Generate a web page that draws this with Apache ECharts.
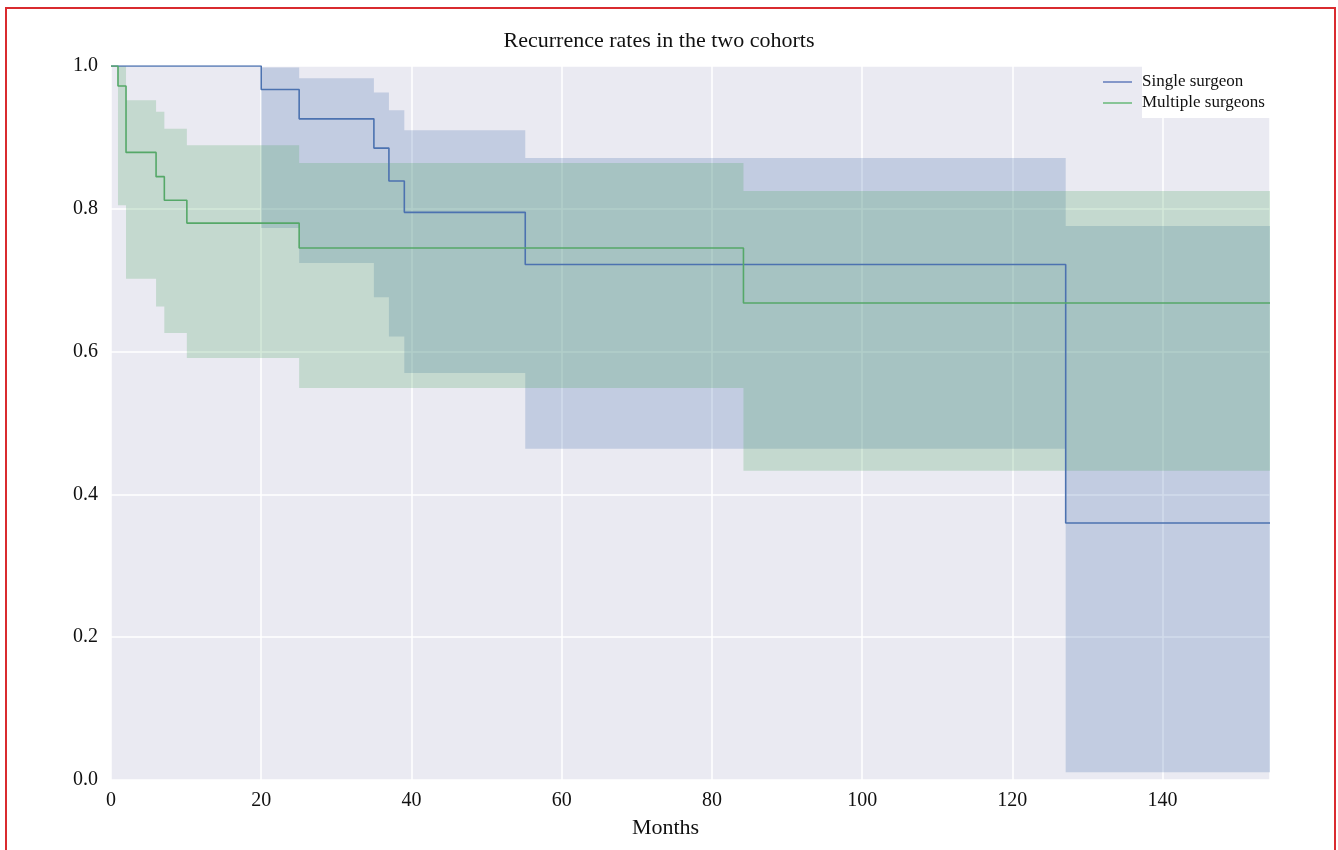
<!DOCTYPE html>
<html>
<head>
<meta charset="utf-8">
<script src="https://cdn.jsdelivr.net/npm/echarts/dist/echarts.min.js"></script>
<style>
html,body{margin:0;padding:0;background:#fff;overflow:hidden}
#chart{width:1338px;height:850px}
#frame{position:absolute;left:5px;top:7px;width:1331px;height:900px;box-sizing:border-box;border:2px solid #d92b2f;border-bottom:none;pointer-events:none}
</style>
</head>
<body>
<div id="chart"></div>
<div id="frame"></div>
<script>
// ---- data ----
const titleText = 'Recurrence rates in the two cohorts';
const xName = 'Months';
const xTicks = [0, 20, 40, 60, 80, 100, 120, 140];
const yTicks = [0.0, 0.2, 0.4, 0.6, 0.8, 1.0];
const seriesNames = ['Single surgeon', 'Multiple surgeons'];

// Single surgeon (Kaplan-Meier step points, value holds until next time)
const singleTimes = [0, 20.0, 25.05, 35.0, 37.0, 39.05, 55.15, 127.1, 154.3];
const singleSurv  = [1.0, 0.967, 0.926, 0.885, 0.839, 0.795, 0.722, 0.360, 0.360];
const singleLow   = [1.0, 0.773, 0.724, 0.676, 0.621, 0.570, 0.464, 0.011, 0.011];
const singleHigh  = [1.0, 0.998, 0.983, 0.963, 0.938, 0.910, 0.871, 0.776, 0.776];

// Multiple surgeons
const multiTimes = [0, 0.93, 2.0, 6.0, 7.1, 10.1, 25.05, 84.2, 154.3];
const multiSurv  = [1.0, 0.972, 0.879, 0.845, 0.812, 0.780, 0.745, 0.668, 0.668];
const multiLow   = [1.0, 0.805, 0.702, 0.663, 0.626, 0.591, 0.549, 0.433, 0.433];
const multiHigh  = [1.0, 1.000, 0.952, 0.936, 0.912, 0.889, 0.864, 0.825, 0.825];

const xMax = 154.3;

// ---- chart ----
const BLUE = '#4C72B0', GREEN = '#55A868';
const FONT = 'Liberation Serif';

function band(key, times, lo, hi, fill) {
  return {
    name: key + ' CI', type: 'custom', silent: true, z: 1,
    data: [[times[0], hi[0]]],
    renderItem: function (params, api) {
      const pts = [];
      for (let i = 0; i < times.length - 1; i++) {
        pts.push(api.coord([times[i], hi[i]]));
        pts.push(api.coord([times[i + 1], hi[i]]));
      }
      for (let i = times.length - 2; i >= 0; i--) {
        pts.push(api.coord([times[i + 1], lo[i]]));
        pts.push(api.coord([times[i], lo[i]]));
      }
      return { type: 'polygon', shape: { points: pts }, style: { fill: fill, stroke: null } };
    }
  };
}
function curve(name, times, surv, color) {
  return { name: name, type: 'line', step: 'end', symbol: 'none', silent: true,
    data: times.map((t, i) => [t, surv[i]]),
    lineStyle: { color: color, width: 1.6 }, itemStyle: { color: color }, z: 3 };
}

const chart = echarts.init(document.getElementById('chart'), null, { renderer: 'canvas' });
chart.setOption({
  animation: false,
  backgroundColor: '#ffffff',
  title: {
    text: titleText, left: 654, top: 25, textAlign: 'center',
    textStyle: { fontFamily: FONT, fontSize: 22, fontWeight: 'normal', color: '#111' }
  },
  legend: {
    data: [
      { name: seriesNames[0], itemStyle: { color: '#8497c9' } },
      { name: seriesNames[1], itemStyle: { color: '#88c597' } }
    ],
    orient: 'vertical', left: 1103, top: 72, padding: 0, itemGap: 1,
    itemWidth: 29, itemHeight: 2, icon: 'rect',
    textStyle: { fontFamily: FONT, fontSize: 17, color: '#111', lineHeight: 20, padding: [0, 0, 0, 5] },
    z: 5
  },
  graphic: [{
    type: 'rect', z: 4, silent: true,
    shape: { x: 1142, y: 65, width: 128, height: 53 },
    style: { fill: '#ffffff' }
  }],
  grid: { left: 111, right: 68, top: 66, bottom: 70, containLabel: false, outerBoundsMode: 'none',
          show: true, backgroundColor: '#EAEAF2', borderWidth: 0 },
  xAxis: {
    type: 'value', min: 0, max: xMax, interval: 20,
    name: xName, nameLocation: 'middle', nameGap: 37, nameMoveOverlap: false,
    nameTextStyle: { fontFamily: FONT, fontSize: 22, color: '#111', padding: [0, 50, 0, 0] },
    axisLine: { show: false }, axisTick: { show: false },
    axisLabel: { fontFamily: FONT, fontSize: 20, color: '#111', margin: 11, showMaxLabel: false,
      formatter: v => (xTicks.indexOf(Math.round(v * 1000) / 1000) >= 0 ? String(v) : '') },
    splitLine: { show: true, lineStyle: { color: '#ffffff', width: 1.5 } }
  },
  yAxis: {
    type: 'value', min: 0, max: 1, interval: 0.2,
    axisLine: { show: false }, axisTick: { show: false },
    axisLabel: { fontFamily: FONT, fontSize: 20, color: '#111', margin: 13,
      formatter: v => {
        const m = yTicks.find(t => Math.abs(t - v) < 1e-9);
        return m === undefined ? '' : m.toFixed(1);
      } },
    splitLine: { show: true, lineStyle: { color: '#ffffff', width: 1.5 } }
  },
  series: [
    band('single', singleTimes, singleLow, singleHigh, 'rgba(76,114,176,0.25)'),
    band('multi', multiTimes, multiLow, multiHigh, 'rgba(85,168,104,0.25)'),
    curve(seriesNames[0], singleTimes, singleSurv, BLUE),
    curve(seriesNames[1], multiTimes, multiSurv, GREEN)
  ]
});
</script>
</body>
</html>
